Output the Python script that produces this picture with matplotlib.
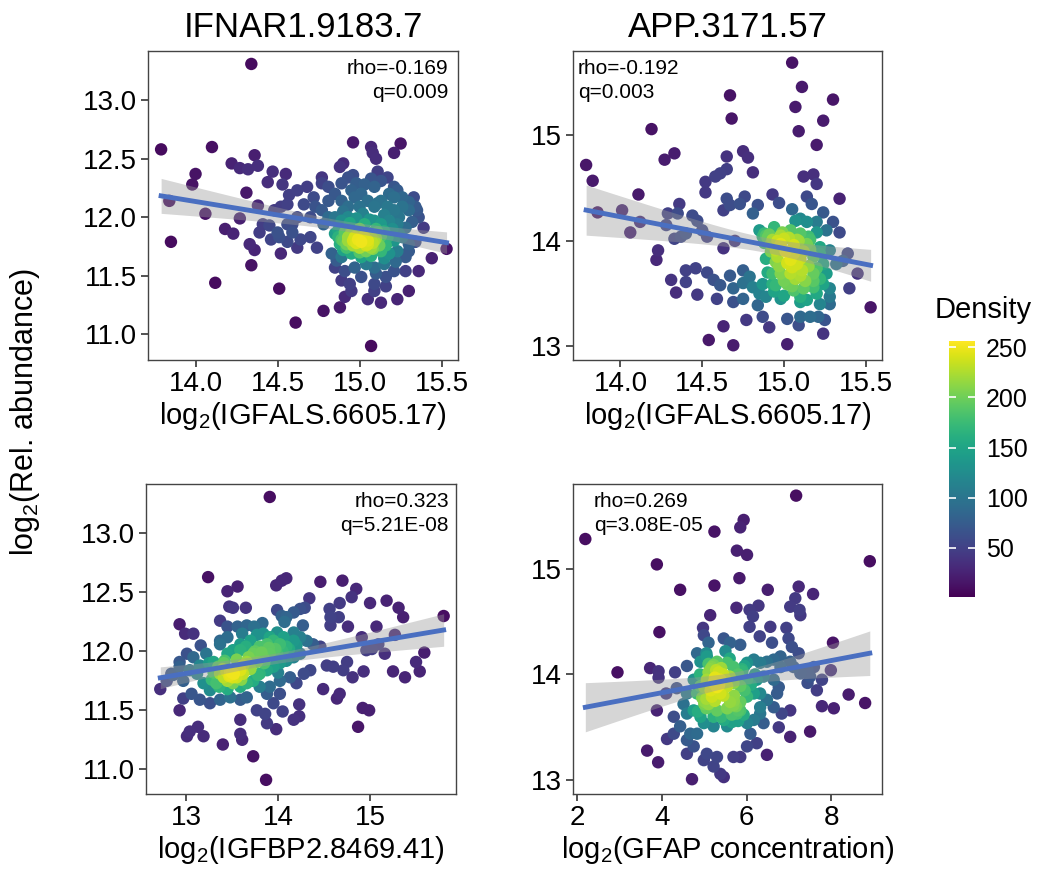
import numpy as np
import matplotlib
matplotlib.use('Agg')
import matplotlib.pyplot as plt
from matplotlib.colors import Normalize

plt.rcParams['font.family'] = ['Liberation Sans', 'DejaVu Sans']
plt.rcParams['mathtext.fontset'] = 'custom'
plt.rcParams['mathtext.rm'] = 'Liberation Sans'
plt.rcParams['mathtext.it'] = 'Liberation Sans:italic'

# IFNAR1.9183.7 vs IGFALS.6605.17
ifnar_pts = [
    (14.34, 13.31), (13.79, 12.58), (14.10, 12.60), (14.96, 12.64), (15.07, 12.60), (15.25, 12.63),
    (15.21, 12.55), (15.08, 12.55), (15.10, 12.50), (14.36, 12.53), (14.22, 12.46), (14.27, 12.42),
    (14.32, 12.41), (14.38, 12.44), (14.00, 12.37), (13.98, 12.28), (14.47, 12.39), (14.44, 12.30),
    (14.55, 12.37), (14.53, 12.28), (14.77, 12.34), (14.90, 12.46), (14.31, 12.21), (14.57, 12.19),
    (13.84, 12.14), (14.06, 12.03), (14.27, 11.99), (14.38, 12.10), (14.18, 11.90), (14.23, 11.86),
    (13.85, 11.79), (14.12, 11.44), (14.34, 11.59), (14.33, 11.77), (14.36, 11.72), (14.46, 11.81),
    (14.51, 11.83), (14.52, 11.69), (14.51, 11.39), (14.61, 11.10), (14.78, 11.20), (14.88, 11.23),
    (14.91, 11.32), (15.07, 10.90), (15.05, 11.30), (15.13, 11.27), (15.23, 11.30), (15.30, 11.37),
    (15.16, 11.41), (15.36, 11.54), (15.44, 11.65), (15.53, 11.73), (15.39, 11.91), (15.33, 12.17),
    (15.35, 12.06), (15.17, 12.34), (15.23, 12.23), (15.11, 12.39), (15.03, 12.28), (14.96, 12.36),
    (14.89, 12.29),
    (14.62, 12.23), (14.68, 12.26), (14.72, 12.17), (14.66, 12.11), (14.62, 12.00), (14.59, 11.87),
    (14.64, 11.81), (14.70, 11.83), (14.74, 11.74), (14.62, 11.74), (14.56, 11.79), (14.59, 11.94),
    (14.77, 12.06), (14.81, 12.14), (14.81, 12.00), (14.78, 11.94),
    (14.85, 12.20), (14.89, 12.14), (14.93, 12.09), (14.97, 12.17), (15.00, 12.09), (15.05, 12.14),
    (15.09, 12.09), (15.13, 12.14), (15.17, 12.09), (15.21, 12.17), (15.26, 12.09), (15.30, 12.06),
    (15.18, 12.20),
    (14.85, 12.00), (14.89, 11.97), (14.93, 12.00), (14.98, 11.99), (15.03, 11.94), (15.09, 11.97),
    (15.13, 11.94), (15.18, 11.97), (15.23, 11.94), (15.28, 11.91), (15.32, 11.96),
    (14.85, 11.86), (14.89, 11.81), (14.93, 11.80), (14.97, 11.83), (15.01, 11.79), (15.05, 11.77),
    (15.07, 11.74), (15.09, 11.80), (15.13, 11.84), (15.17, 11.83), (15.21, 11.80), (15.26, 11.83),
    (15.30, 11.77), (15.34, 11.79),
    (14.87, 11.89), (14.91, 11.87), (14.95, 11.86), (14.99, 11.87), (15.03, 11.83), (15.07, 11.83),
    (15.11, 11.87), (14.88, 11.77), (14.92, 11.74), (14.96, 11.76), (15.00, 11.74), (15.04, 11.71),
    (15.08, 11.73),
    (14.83, 11.69), (14.89, 11.66), (14.95, 11.69), (15.01, 11.66), (15.07, 11.67), (15.13, 11.71),
    (15.18, 11.69), (15.23, 11.71), (15.28, 11.66), (15.30, 11.71),
    (14.85, 11.57), (14.91, 11.54), (14.97, 11.57), (15.01, 11.49), (15.09, 11.57), (15.15, 11.60),
    (15.21, 11.54), (15.28, 11.54), (14.89, 11.46), (14.94, 11.43), (15.09, 11.43), (15.16, 11.49),
    (14.95, 11.37), (15.09, 11.37),
    (14.88, 12.43), (14.93, 12.34), (14.98, 12.29), (15.07, 12.33), (15.09, 12.26), (15.13, 12.31),
    (15.21, 12.26), (15.26, 12.17), (15.30, 12.13), (15.34, 12.09), (15.36, 12.00), (15.21, 12.06),
    (14.77, 12.29), (14.81, 12.26), (14.73, 12.09), (14.70, 12.00), (14.95, 12.23), (15.01, 12.20),
    (14.48, 12.06), (14.52, 12.09), (14.56, 12.11), (14.45, 11.93), (14.50, 11.87), (14.39, 11.87),
    (14.41, 11.94), (14.56, 11.94),
    (14.90, 11.80), (14.93, 11.83), (14.96, 11.80), (14.99, 11.81), (15.02, 11.83), (15.05, 11.80),
    (15.08, 11.78), (15.10, 11.82), (14.92, 11.77), (14.98, 11.78), (15.04, 11.76), (15.06, 11.84),
    (14.95, 11.88), (15.00, 11.90), (15.12, 11.76), (14.87, 11.83), (15.15, 11.88), (15.10, 11.90),
    (15.20, 11.90), (15.16, 11.76), (14.94, 11.95), (15.06, 11.98), (15.15, 12.02), (15.24, 12.00),
    (15.02, 12.03), (14.90, 12.05), (15.11, 12.12), (15.24, 11.86), (15.00, 11.70), (14.90, 11.72),
    (15.15, 11.65), (15.22, 11.62), (14.86, 11.63), (15.04, 11.60), (15.10, 11.52),
]

# APP.3171.57 vs IGFALS.6605.17
app_pts = [
    (15.05, 15.69), (15.11, 15.46), (15.30, 15.34), (15.07, 15.27), (14.67, 15.38), (14.68, 15.16),
    (15.24, 15.14), (14.19, 15.06), (15.09, 15.04), (15.20, 14.91), (14.33, 14.83), (14.27, 14.77),
    (14.75, 14.85), (14.78, 14.79), (14.65, 14.80), (13.79, 14.72), (13.83, 14.57), (14.65, 14.68),
    (14.61, 14.64), (14.58, 14.61), (14.52, 14.56), (14.52, 14.46), (14.81, 14.65), (15.12, 14.61),
    (15.18, 14.63), (15.20, 14.54), (14.11, 14.44), (14.93, 14.44), (14.97, 14.36), (15.14, 14.42),
    (15.17, 14.35), (15.34, 14.40), (15.24, 14.27), (14.76, 14.42), (14.73, 14.35), (14.84, 14.34),
    (14.81, 14.26), (14.65, 14.40), (14.67, 14.34), (14.63, 14.29), (14.36, 14.35), (14.35, 14.26),
    (14.29, 14.26), (14.01, 14.29), (13.86, 14.27), (14.12, 14.18), (14.06, 14.08), (14.28, 14.15),
    (14.44, 14.24), (14.47, 14.19), (14.50, 14.10), (14.53, 14.04), (14.40, 14.07), (14.37, 14.04),
    (14.23, 13.91), (14.22, 13.82), (14.33, 14.02), (14.63, 13.93), (14.70, 14.00),
    (14.89, 14.05), (14.88, 14.07), (14.90, 14.03), (14.85, 14.10), (14.94, 14.13), (14.99, 14.08),
    (15.04, 14.10), (15.10, 14.07), (15.15, 14.04), (15.20, 14.08), (15.26, 14.10), (15.34, 14.08),
    (15.07, 14.19), (15.14, 14.18), (15.20, 14.18), (15.30, 14.18), (15.05, 14.30), (15.10, 14.21),
    (14.92, 13.97), (14.98, 13.97), (15.06, 13.96), (15.14, 13.97), (15.22, 13.94), (15.28, 13.91),
    (15.39, 13.88), (14.89, 13.83), (14.96, 13.85), (15.04, 13.82), (15.10, 13.83), (15.18, 13.85),
    (15.24, 13.78), (15.32, 13.78), (15.36, 13.81), (15.45, 13.69), (15.40, 13.55), (15.53, 13.37),
    (14.40, 13.72), (14.46, 13.74), (14.53, 13.70), (14.57, 13.63), (14.61, 13.58), (14.67, 13.67),
    (14.69, 13.55), (14.31, 13.63), (14.34, 13.51), (14.40, 13.61), (14.47, 13.49), (14.59, 13.45),
    (14.75, 13.72), (14.79, 13.66), (14.75, 13.60), (14.81, 13.56), (14.69, 13.42), (14.75, 13.45),
    (14.84, 13.39), (14.87, 13.59), (14.93, 13.59), (14.89, 13.47), (14.98, 13.45), (15.02, 13.59),
    (15.06, 13.53), (15.10, 13.47), (15.14, 13.44), (15.18, 13.56), (15.24, 13.59), (15.28, 13.47),
    (15.22, 13.40), (14.93, 13.69), (15.04, 13.69), (15.11, 13.72), (15.18, 13.69), (15.26, 13.69),
    (14.87, 13.28), (14.91, 13.18), (15.02, 13.26), (15.10, 13.28), (15.16, 13.28), (15.21, 13.28),
    (15.09, 13.20), (15.25, 13.25), (15.24, 13.12), (14.77, 13.25), (14.63, 13.19), (14.54, 13.06),
    (14.69, 13.01), (15.02, 13.02), (15.28, 13.40),
    (14.96, 14.00), (15.00, 14.02), (15.08, 14.01), (14.95, 13.91), (15.01, 13.90), (15.12, 13.90),
    (14.97, 13.76), (15.05, 13.75), (15.00, 13.62), (15.07, 13.64), (15.13, 13.62), (14.94, 13.52),
    (14.87, 14.04), (14.91, 14.06), (14.93, 14.01), (14.88, 13.98), (14.98, 14.05), (15.03, 14.03),
    (15.09, 14.00), (15.16, 14.01), (14.92, 13.90), (15.06, 13.88), (15.16, 13.92), (15.22, 13.88),
    (14.95, 13.80), (15.02, 13.79), (15.08, 13.78), (15.15, 13.76), (15.20, 13.74), (14.90, 13.70),
    (14.98, 13.69), (15.10, 13.67), (15.22, 13.64), (14.95, 13.58), (15.05, 13.57), (15.12, 13.55),
    (15.20, 13.50), (15.10, 13.42), (15.00, 13.48), (15.18, 13.62), (14.85, 13.50), (15.28, 13.55),
]

# IFNAR1.9183.7 vs IGFBP2.8469.41
igfbp_pts = [
    (13.91, 13.31), (13.24, 12.63), (13.45, 12.51), (13.56, 12.55), (13.65, 12.37), (13.47, 12.38),
    (13.51, 12.37), (13.98, 12.56), (14.09, 12.62), (14.04, 12.60), (14.46, 12.59), (14.70, 12.60),
    (14.85, 12.53), (14.80, 12.46), (14.34, 12.45), (14.56, 12.36), (14.67, 12.41), (15.00, 12.41),
    (15.18, 12.43), (15.31, 12.37), (15.36, 12.29), (15.80, 12.30), (12.93, 12.23), (12.99, 12.15),
    (13.08, 12.15), (13.16, 12.05), (13.37, 12.26), (13.45, 12.21), (13.37, 12.09), (13.45, 12.12),
    (13.56, 12.21), (13.61, 12.15), (13.66, 12.22), (13.74, 12.21), (13.83, 12.24), (13.99, 12.35),
    (14.04, 12.30), (14.09, 12.29), (14.17, 12.33), (14.24, 12.36), (14.29, 12.37), (14.07, 12.25),
    (14.27, 12.22), (14.57, 12.29), (14.66, 12.29), (14.57, 12.22), (14.76, 12.21), (14.91, 12.12),
    (15.07, 12.21), (15.09, 12.06), (15.02, 12.02), (15.16, 11.98), (15.27, 12.14), (15.25, 11.83),
    (15.38, 11.78), (15.50, 11.91), (15.54, 11.83), (15.59, 11.99), (14.96, 12.01), (14.93, 11.83),
    (14.81, 11.78), (14.75, 11.91), (14.71, 11.84), (14.49, 11.68), (14.64, 11.60), (14.67, 11.64),
    (14.53, 11.88), (14.60, 11.87), (14.92, 11.52), (14.99, 11.50), (14.87, 11.36), (12.72, 11.68),
    (12.93, 11.91), (12.93, 11.50), (12.86, 11.80), (12.97, 11.75), (12.97, 11.60), (13.06, 11.64),
    (13.13, 11.36), (13.19, 11.28), (13.01, 11.28), (13.04, 11.32), (13.40, 11.21), (13.59, 11.42),
    (13.59, 11.30), (13.61, 11.25), (13.73, 11.11), (13.87, 10.91), (13.88, 11.39), (13.98, 11.34),
    (13.77, 11.50), (13.95, 11.56), (14.05, 11.49), (14.17, 11.42), (14.23, 11.45), (14.23, 11.55),
    (13.86, 11.47),
    (13.22, 11.98), (13.30, 11.91), (13.41, 11.90), (13.48, 11.83), (13.51, 11.78), (13.59, 11.84),
    (13.66, 11.91), (13.73, 11.98), (13.80, 12.04), (13.88, 12.06), (13.95, 12.09), (14.02, 12.06),
    (14.09, 12.04), (14.17, 12.09), (14.24, 12.12), (14.31, 12.09), (14.38, 12.06), (14.46, 12.04),
    (13.70, 12.09), (13.77, 12.14), (13.84, 12.15), (13.91, 12.12), (13.99, 12.16), (14.06, 12.12),
    (14.17, 12.16), (13.37, 11.81), (13.45, 11.75), (13.51, 11.73), (13.33, 11.73), (13.26, 11.67),
    (13.19, 11.73), (13.12, 11.81), (13.04, 11.84), (13.59, 11.70), (13.66, 11.73), (13.73, 11.75),
    (13.80, 11.81), (13.88, 11.84), (13.95, 11.87), (14.02, 11.90), (13.77, 11.91), (13.84, 11.95),
    (13.91, 11.98), (13.99, 11.98), (14.09, 11.92), (14.17, 11.95), (14.24, 11.98), (13.80, 11.70),
    (13.91, 11.70), (14.02, 11.75), (14.13, 11.78), (14.20, 11.73), (14.28, 11.81), (14.35, 11.84),
    (13.15, 11.59), (13.26, 11.56), (13.37, 11.59), (13.48, 11.61), (13.59, 11.59), (13.66, 11.61),
    (13.88, 11.64), (14.02, 11.64), (13.45, 11.98), (13.51, 12.01), (13.59, 12.01), (13.37, 12.06),
    (13.59, 12.06), (13.48, 11.80), (13.50, 11.82), (13.62, 11.81), (13.41, 11.78), (13.01, 11.98),
    (13.08, 11.95), (12.93, 11.87), (12.84, 11.81), (12.79, 11.75),
    (13.47, 11.79), (13.52, 11.81), (13.55, 11.78), (13.44, 11.83), (13.40, 11.85), (13.58, 11.86),
    (13.62, 11.88), (13.35, 11.87), (13.30, 11.82), (13.42, 11.92), (13.55, 11.93), (13.68, 11.95),
    (13.75, 12.00), (13.82, 11.99), (13.90, 12.03), (13.97, 12.02), (14.05, 12.00), (13.70, 11.85),
    (13.85, 11.90), (13.28, 11.76), (13.36, 11.70), (13.45, 11.68), (13.60, 11.76), (14.12, 12.02),
    (14.20, 12.05), (13.25, 11.90), (13.15, 11.88), (13.65, 12.04), (13.78, 11.80), (14.00, 11.82),
]

# APP.3171.57 vs GFAP concentration
gfap_pts = [
    (2.19, 15.28), (7.17, 15.69), (8.91, 15.07), (5.93, 15.46), (5.85, 15.39), (5.24, 15.35),
    (5.77, 15.17), (6.01, 15.13), (3.88, 15.04), (5.83, 14.91), (5.24, 14.84), (4.43, 14.80),
    (6.50, 14.80), (7.23, 14.83), (7.57, 14.76), (7.15, 14.72), (7.03, 14.64), (7.25, 14.61),
    (7.27, 14.56), (5.76, 14.63), (5.14, 14.56), (6.07, 14.61), (6.15, 14.55), (6.28, 14.65),
    (6.07, 14.45), (6.56, 14.45), (6.94, 14.44), (6.31, 14.36), (6.60, 14.30), (3.94, 14.40),
    (4.97, 14.44), (4.99, 14.37), (5.10, 14.30), (5.46, 14.34), (5.61, 14.30), (5.85, 14.28),
    (6.99, 14.34), (7.07, 14.26), (7.23, 14.20), (8.04, 14.30), (2.95, 14.02), (3.72, 14.06),
    (3.92, 14.03), (3.92, 13.97), (4.10, 13.82), (3.88, 13.66), (4.31, 14.02), (4.59, 14.08),
    (4.83, 14.20), (4.91, 14.12), (5.06, 14.17), (5.30, 14.12), (5.18, 14.07), (5.34, 14.02),
    (5.54, 14.11), (5.69, 14.07), (5.89, 14.05), (6.01, 14.11), (6.17, 14.14), (6.32, 14.11),
    (6.48, 14.12), (6.64, 14.14), (6.80, 14.17), (4.75, 13.95), (4.91, 13.89), (5.06, 13.95),
    (5.22, 13.92), (5.38, 13.95), (5.54, 13.89), (5.69, 13.92), (5.85, 13.89), (6.01, 13.95),
    (6.24, 13.95), (6.40, 13.98), (4.35, 13.87), (4.59, 13.82), (4.83, 13.82), (4.99, 13.76),
    (5.02, 13.74), (5.18, 13.79), (5.38, 13.82), (5.69, 13.71), (5.85, 13.66), (5.77, 13.63),
    (5.93, 13.62), (6.01, 13.79), (6.17, 13.82), (6.32, 13.82), (6.48, 13.76), (6.72, 13.82),
    (6.76, 13.88), (6.64, 13.95), (7.44, 13.92), (7.66, 13.85), (7.78, 13.95), (7.99, 14.04),
    (8.41, 13.81), (8.80, 13.73), (7.78, 13.70), (8.06, 13.68), (7.03, 13.66), (6.83, 13.63),
    (6.76, 13.50), (7.03, 13.41), (7.50, 13.46), (6.32, 13.63), (6.40, 13.54), (6.17, 13.57),
    (6.09, 13.44), (6.01, 13.54), (5.46, 13.57), (5.54, 13.51), (5.22, 13.51), (4.99, 13.54),
    (4.83, 13.44), (4.67, 13.44), (4.59, 13.38), (4.28, 13.60), (4.43, 13.51), (4.12, 13.39),
    (4.28, 13.44), (3.65, 13.28), (3.91, 13.17), (4.59, 13.25), (4.75, 13.32), (5.06, 13.25),
    (5.30, 13.22), (5.69, 13.22), (5.85, 13.22), (6.01, 13.32), (6.24, 13.35), (6.48, 13.24),
    (4.71, 13.01), (5.38, 13.06), (5.46, 13.03), (5.22, 13.13), (4.99, 13.19), (5.54, 13.68),
    (5.61, 13.74), (5.85, 13.74), (4.59, 13.63), (4.75, 13.66), (5.30, 13.66), (5.22, 13.60),
    (4.91, 13.60), (4.51, 13.72), (6.32, 13.69), (6.64, 13.69), (6.80, 14.07), (7.03, 14.12),
    (7.11, 14.07), (7.27, 14.01), (7.44, 14.04), (7.50, 13.98), (7.59, 14.07),
    (5.10, 14.02), (5.25, 13.97), (5.45, 14.00), (5.60, 13.98), (5.15, 13.85), (5.30, 13.88),
    (5.70, 13.80), (5.05, 13.68), (5.65, 13.62), (5.80, 13.56),
    (5.15, 14.05), (5.22, 14.09), (5.28, 14.04), (5.10, 14.10), (5.40, 14.06), (5.00, 13.72),
    (5.05, 13.77), (4.95, 13.78), (5.10, 13.72), (5.75, 13.70), (5.80, 13.66), (5.70, 13.75),
    (5.90, 14.03), (5.95, 14.08), (5.80, 14.00), (5.50, 13.95), (5.35, 13.90), (5.00, 13.88),
    (4.90, 14.00), (5.60, 14.15), (5.45, 13.80), (5.25, 13.75), (6.10, 13.90), (5.95, 13.85),
    (5.40, 13.60), (5.65, 13.55), (4.85, 13.65), (6.20, 14.00), (5.05, 14.20), (5.50, 14.22),
]

panels = [ifnar_pts, app_pts, igfbp_pts, gfap_pts]
titles = ['IFNAR1.9183.7', 'APP.3171.57', '', '']
xlabels = [r'log$_2$(IGFALS.6605.17)', r'log$_2$(IGFALS.6605.17)',
           r'log$_2$(IGFBP2.8469.41)', r'log$_2$(GFAP concentration)']
stats = [('rho=-0.169', 'q=0.009'), ('rho=-0.192', 'q=0.003'),
         ('rho=0.323', 'q=5.21E-08'), ('rho=0.269', 'q=3.08E-05')]
xticks = [[14.0, 14.5, 15.0, 15.5], [14.0, 14.5, 15.0, 15.5], [13, 14, 15], [2, 4, 6, 8]]
yticks = [[11.0, 11.5, 12.0, 12.5, 13.0], [13, 14, 15], [11.0, 11.5, 12.0, 12.5, 13.0], [13, 14, 15]]
xfmt = ['%.1f', '%.1f', '%d', '%d']
yfmt = ['%.1f', '%d', '%.1f', '%d']
xlims = [(13.71, 15.60), (13.71, 15.60), (12.565, 15.935), (1.9, 9.2)]
ylims = [(10.78, 13.42), (12.87, 15.80), (10.79, 13.42), (12.87, 15.80)]
cbar_ticks = [50, 100, 150, 200, 250]


def point_density(x, y):
    # gaussian kde (narrowed scott bandwidth), scaled so the peak reads ~250
    xy = np.vstack([x, y])
    n = xy.shape[1]
    cov = np.cov(xy) * n ** (-1.0 / 3) * 0.45
    inv = np.linalg.inv(cov)
    dx = x[:, None] - x[None, :]
    dy = y[:, None] - y[None, :]
    q = inv[0, 0] * dx ** 2 + 2 * inv[0, 1] * dx * dy + inv[1, 1] * dy ** 2
    k = np.exp(-0.5 * q).sum(axis=1)
    return k / k.max() * 250


fig = plt.figure(figsize=(10.37, 8.76), dpi=100)
positions = [[0.1427, 0.589, 0.299, 0.3527], [0.5526, 0.589, 0.298, 0.3527],
             [0.1408, 0.0936, 0.299, 0.3539], [0.5526, 0.0936, 0.298, 0.3539]]
text_pos = [(0.968, 'right'), (0.016, 'left'), (0.977, 'right'), (0.068, 'left')]

norm = Normalize(vmin=1, vmax=256)
for i, pts in enumerate(panels):
    ax = fig.add_axes(positions[i])
    arr = np.array(pts)
    x, y = arr[:, 0], arr[:, 1]
    dens = point_density(x, y)
    order = np.argsort(dens)
    ax.scatter(x[order], y[order], c=dens[order], cmap='viridis', norm=norm,
               s=80, linewidths=0, zorder=2)

    # linear fit with 95% confidence band
    n = len(x)
    b, a = np.polyfit(x, y, 1)
    xs = np.linspace(x.min(), x.max(), 100)
    fit = a + b * xs
    resid = y - (a + b * x)
    s = np.sqrt(np.sum(resid ** 2) / (n - 2))
    se = s * np.sqrt(1.0 / n + (xs - x.mean()) ** 2 / np.sum((x - x.mean()) ** 2))
    ax.fill_between(xs, fit - 1.97 * se, fit + 1.97 * se, color='#999999', alpha=0.4,
                    linewidth=0, zorder=3)
    ax.plot(xs, fit, color='#4a6fc1', lw=3.5, zorder=4)

    ax.set_xlim(xlims[i])
    ax.set_ylim(ylims[i])
    ax.set_xticks(xticks[i])
    ax.set_xticklabels([xfmt[i] % v for v in xticks[i]])
    ax.set_yticks(yticks[i])
    ax.set_yticklabels([yfmt[i] % v for v in yticks[i]])
    ax.tick_params(labelsize=20, length=5, width=1.2, color='#333333', pad=3)
    for sp in ax.spines.values():
        sp.set_color('#444444')
        sp.set_linewidth(1.0)
    ax.set_xlabel(xlabels[i], fontsize=21, labelpad=2)
    if titles[i]:
        ax.set_title(titles[i], fontsize=25, pad=10)

    tx, ha = text_pos[i]
    ax.text(tx, 0.945, stats[i][0], transform=ax.transAxes, ha=ha, va='center', fontsize=15, zorder=5)
    ax.text(tx, 0.865, stats[i][1], transform=ax.transAxes, ha=ha, va='center', fontsize=15, zorder=5)

fig.text(25 / 1037, 1 - 412 / 876, r'log$_2$(Rel. abundance)', rotation=90,
         ha='center', va='center', fontsize=22)

cax = fig.add_axes([0.915, 0.3185, 0.025, 0.292])
sm = plt.cm.ScalarMappable(norm=norm, cmap='viridis')
cb = fig.colorbar(sm, cax=cax)
cb.outline.set_visible(False)
cb.set_ticks(cbar_ticks)
cax.tick_params(direction='in', color='white', length=5, width=1.2, left=True, right=True,
                labelleft=False, labelright=True, labelsize=18, pad=8)
fig.text(935 / 1037, 1 - 310 / 876, 'Density', ha='left', va='center', fontsize=21)

fig.savefig('out.png', dpi=100)
